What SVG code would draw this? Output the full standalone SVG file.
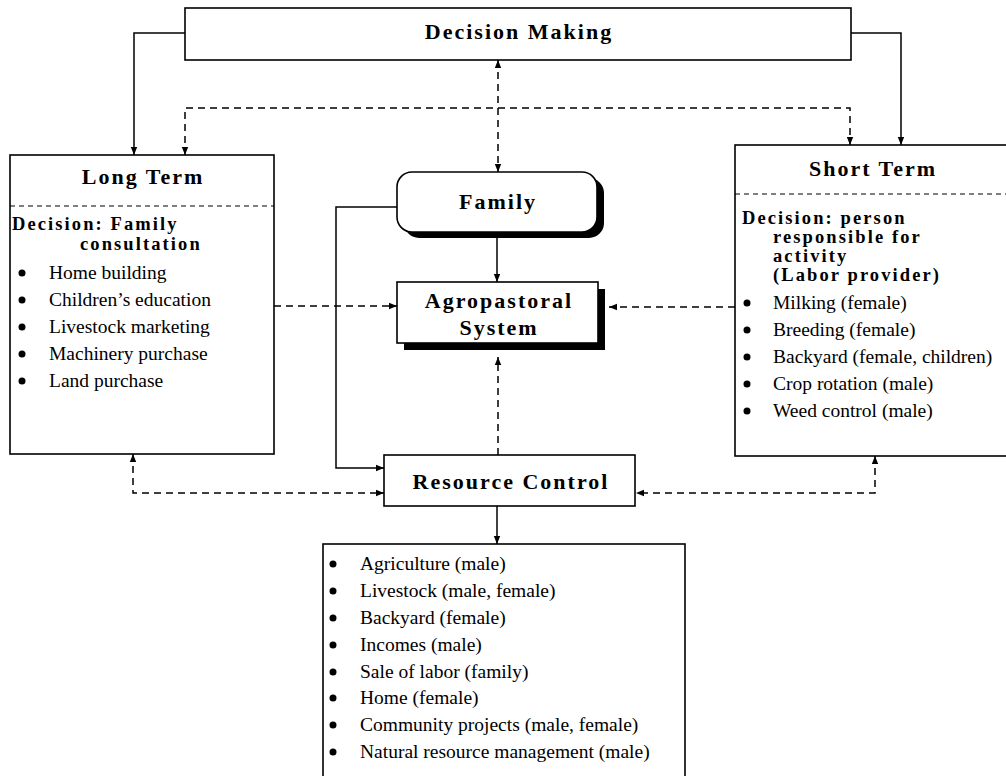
<svg xmlns="http://www.w3.org/2000/svg" width="1006" height="776" viewBox="0 0 1006 776">
  <defs>
    <style>
      .box { fill: #fff; stroke: #000; stroke-width: 1.6; }
      .shadow { fill: #000; stroke: none; }
      .sep { stroke: #000; stroke-width: 1.1; stroke-dasharray: 5 4; fill: none; }
      .title { font-family: "Liberation Serif", "Times New Roman", serif; font-weight: bold; font-size: 22px; letter-spacing: 2px; text-anchor: middle; fill: #000; }
      .dec { font-family: "Liberation Serif", "Times New Roman", serif; font-weight: bold; font-size: 18.5px; letter-spacing: 2.1px; fill: #000; }
      .item { font-family: "Liberation Serif", "Times New Roman", serif; font-size: 19.5px; fill: #000; }
      .dot { fill: #000; }
      .solid { stroke: #000; stroke-width: 1.5; fill: none; }
      .dash { stroke: #000; stroke-width: 1.5; fill: none; stroke-dasharray: 7 5; }
    </style>
    <marker id="ah" viewBox="0 0 10 10" refX="10" refY="5" markerWidth="8" markerHeight="8" markerUnits="userSpaceOnUse" orient="auto-start-reverse">
      <path d="M0,1 L10,5 L0,9 z" fill="#000"/>
    </marker>
  </defs>

  <rect width="1006" height="776" fill="#fff"/>

  <!-- connectors -->
  <g id="connectors">
    <path class="solid" d="M185,33 H134 V155" marker-end="url(#ah)"/>
    <path class="solid" d="M851,33 H901 V145" marker-end="url(#ah)"/>
    <path class="dash" d="M185,155 V108 H850 V145" marker-start="url(#ah)" marker-end="url(#ah)"/>
    <path class="dash" d="M498,60 V172" marker-start="url(#ah)" marker-end="url(#ah)"/>
    <path class="solid" d="M497,238 V282" marker-end="url(#ah)"/>
    <path class="dash" d="M274,306 H397" marker-end="url(#ah)"/>
    <path class="dash" d="M735,307 H609" marker-end="url(#ah)"/>
    <path class="dash" d="M498,455 V357" marker-end="url(#ah)"/>
    <path class="solid" d="M397,207 H336 V468 H384" marker-end="url(#ah)"/>
    <path class="dash" d="M133,454 V493 H384" marker-start="url(#ah)" marker-end="url(#ah)"/>
    <path class="dash" d="M875,456 V493 H636" marker-start="url(#ah)" marker-end="url(#ah)"/>
    <path class="solid" d="M497,506 V544" marker-end="url(#ah)"/>
  </g>

  <!-- Decision Making -->
  <g id="decision-making">
    <rect class="box" x="185" y="8" width="666" height="52"/>
    <text class="title" x="519" y="39">Decision Making</text>
  </g>

  <!-- Long Term -->
  <g id="long-term">
    <rect class="box" x="10" y="155" width="264" height="299"/>
    <line class="sep" x1="10" y1="206" x2="274" y2="206"/>
    <text class="title" x="143" y="184">Long Term</text>
    <text class="dec" x="12" y="230">Decision: Family</text>
    <text class="dec" x="80" y="250">consultation</text>
    <g class="dot">
      <circle cx="22" cy="273" r="3.5"/>
      <circle cx="22" cy="300" r="3.5"/>
      <circle cx="22" cy="327" r="3.5"/>
      <circle cx="22" cy="354" r="3.5"/>
      <circle cx="22" cy="381" r="3.5"/>
    </g>
    <text class="item" x="49" y="279">Home building</text>
    <text class="item" x="49" y="306">Children’s education</text>
    <text class="item" x="49" y="333">Livestock marketing</text>
    <text class="item" x="49" y="360">Machinery purchase</text>
    <text class="item" x="49" y="387">Land purchase</text>
  </g>

  <!-- Short Term -->
  <g id="short-term">
    <rect class="box" x="735" y="145" width="280" height="311"/>
    <line class="sep" x1="735" y1="194" x2="1006" y2="194"/>
    <text class="title" x="873" y="176">Short Term</text>
    <text class="dec" x="742" y="224">Decision: person</text>
    <text class="dec" x="773" y="243">responsible for</text>
    <text class="dec" x="773" y="262">activity</text>
    <text class="dec" x="773" y="281">(Labor provider)</text>
    <g class="dot">
      <circle cx="747" cy="303" r="3.5"/>
      <circle cx="747" cy="330" r="3.5"/>
      <circle cx="747" cy="357" r="3.5"/>
      <circle cx="747" cy="384" r="3.5"/>
      <circle cx="747" cy="411" r="3.5"/>
    </g>
    <text class="item" x="773" y="309">Milking (female)</text>
    <text class="item" x="773" y="336">Breeding (female)</text>
    <text class="item" x="773" y="363">Backyard (female, children)</text>
    <text class="item" x="773" y="390">Crop rotation (male)</text>
    <text class="item" x="773" y="417">Weed control (male)</text>
  </g>

  <!-- Family -->
  <g id="family">
    <rect class="shadow" x="404" y="178" width="200" height="60" rx="15"/>
    <rect class="box" x="397" y="172" width="200" height="60" rx="15"/>
    <text class="title" x="498" y="209">Family</text>
  </g>

  <!-- Agropastoral System -->
  <g id="agropastoral">
    <rect class="shadow" x="404" y="289" width="201" height="61"/>
    <rect class="box" x="397" y="282" width="201" height="61"/>
    <text class="title" x="499" y="308">Agropastoral</text>
    <text class="title" x="499" y="335">System</text>
  </g>

  <!-- Resource Control -->
  <g id="resource-control">
    <rect class="box" x="384" y="455" width="251" height="51"/>
    <text class="title" x="511" y="489">Resource Control</text>
  </g>

  <!-- Resource list -->
  <g id="resources">
    <rect class="box" x="323" y="544" width="362" height="250"/>
    <g class="dot">
      <circle cx="333" cy="564" r="3.5"/>
      <circle cx="333" cy="591" r="3.5"/>
      <circle cx="333" cy="618" r="3.5"/>
      <circle cx="333" cy="645" r="3.5"/>
      <circle cx="333" cy="672" r="3.5"/>
      <circle cx="333" cy="698" r="3.5"/>
      <circle cx="333" cy="725" r="3.5"/>
      <circle cx="333" cy="752" r="3.5"/>
    </g>
    <text class="item" x="360" y="570">Agriculture (male)</text>
    <text class="item" x="360" y="597">Livestock (male, female)</text>
    <text class="item" x="360" y="624">Backyard (female)</text>
    <text class="item" x="360" y="651">Incomes (male)</text>
    <text class="item" x="360" y="678">Sale of labor (family)</text>
    <text class="item" x="360" y="704">Home (female)</text>
    <text class="item" x="360" y="731">Community projects (male, female)</text>
    <text class="item" x="360" y="758">Natural resource management (male)</text>
  </g>
</svg>
